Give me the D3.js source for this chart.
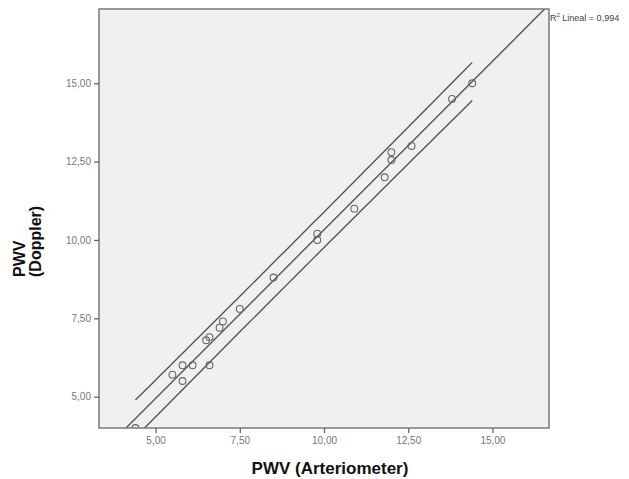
<!DOCTYPE html>
<html>
<head>
<meta charset="utf-8">
<script src="https://cdn.jsdelivr.net/npm/d3@7"></script>
<style>
  body { margin: 0; background: #fff; }
  svg { font-family: "Liberation Sans", Arial, sans-serif; }
</style>
</head>
<body>
<svg id="chart" width="629" height="479"></svg>
<script>
// PWV measured by arteriometer (x) vs doppler (y)
var pwvArteriometer = [4.4, 5.5, 5.8, 5.8, 6.1, 6.6, 6.5, 6.6, 6.9, 7.0, 7.5,
                       8.5, 9.8, 9.8, 10.9, 11.8, 12.0, 12.0, 12.6, 13.8, 14.4];
var pwvDoppler      = [4.0, 5.7, 6.0, 5.5, 6.0, 6.0, 6.8, 6.9, 7.2, 7.4, 7.8,
                       8.8, 10.2, 10.0, 11.0, 12.0, 12.8, 12.55, 13.0, 14.5, 15.0];
var xTicks = [5, 7.5, 10, 12.5, 15];
var yTicks = [5, 7.5, 10, 12.5, 15];
var xTitle = "PWV (Arteriometer)";
var yTitle = ["PWV", "(Doppler)"];
var r2Text = "Lineal = 0,994";

var points = pwvArteriometer.map(function(d, i) { return {x: d, y: pwvDoppler[i]}; });

var svg = d3.select("#chart");
var pLeft = 99, pRight = 549, pTop = 9, pBottom = 428;

var x = d3.scaleLinear().domain([3.32, 16.68]).range([pLeft, pRight]);
var y = d3.scaleLinear().domain([4.0, 17.37]).range([pBottom, pTop]);

var fmt = function(d) { return d3.format(".2f")(d).replace(".", ","); };

/* least squares fit + 95% individual prediction interval */
var n = points.length;
var mx = d3.mean(points, function(d) { return d.x; });
var my = d3.mean(points, function(d) { return d.y; });
var sxx = d3.sum(points, function(d) { return (d.x - mx) * (d.x - mx); });
var sxy = d3.sum(points, function(d) { return (d.x - mx) * (d.y - my); });
var slope = sxy / sxx;
var intercept = my - slope * mx;
var sse = d3.sum(points, function(d) { var e = d.y - (intercept + slope * d.x); return e * e; });
var s = Math.sqrt(sse / (n - 2));
var tCrit = 2.093;

function pred(v) { return intercept + slope * v; }
function half(v) { return tCrit * s * Math.sqrt(1 + 1 / n + (v - mx) * (v - mx) / sxx); }

svg.append("defs").append("clipPath").attr("id", "plotClip")
  .append("rect").attr("x", pLeft).attr("y", pTop)
  .attr("width", pRight - pLeft).attr("height", pBottom - pTop);

svg.append("rect")
  .attr("x", pLeft).attr("y", pTop)
  .attr("width", pRight - pLeft).attr("height", pBottom - pTop)
  .attr("fill", "#f0f0f0");

var plot = svg.append("g").attr("clip-path", "url(#plotClip)");

var line = d3.line()
  .x(function(d) { return x(d[0]); })
  .y(function(d) { return y(d[1]); });

// fit line over the whole x range
plot.append("path")
  .datum(x.domain().map(function(v) { return [v, pred(v)]; }))
  .attr("fill", "none").attr("stroke", "#555").attr("stroke-width", 1.4)
  .attr("d", line);

// prediction interval over the data range
var xr = d3.extent(pwvArteriometer);
var steps = d3.range(0, 41).map(function(i) { return xr[0] + (xr[1] - xr[0]) * i / 40; });
[1, -1].forEach(function(sign) {
  plot.append("path")
    .datum(steps.map(function(v) { return [v, pred(v) + sign * half(v)]; }))
    .attr("fill", "none").attr("stroke", "#555").attr("stroke-width", 1.4)
    .attr("d", line);
});

plot.selectAll("circle.pt")
  .data(points)
  .enter().append("circle")
  .attr("class", "pt")
  .attr("cx", function(d) { return x(d.x); })
  .attr("cy", function(d) { return y(d.y); })
  .attr("r", 3.4)
  .attr("fill", "none")
  .attr("stroke", "#666")
  .attr("stroke-width", 1.1);

svg.append("rect")
  .attr("x", pLeft).attr("y", pTop)
  .attr("width", pRight - pLeft).attr("height", pBottom - pTop)
  .attr("fill", "none").attr("stroke", "#7a7a7a").attr("stroke-width", 1.5);

/* axes */
var xAxis = svg.append("g")
  .attr("transform", "translate(0," + pBottom + ")")
  .call(d3.axisBottom(x).tickValues(xTicks).tickFormat(fmt).tickSize(5).tickPadding(4));
var yAxis = svg.append("g")
  .attr("transform", "translate(" + pLeft + ",0)")
  .call(d3.axisLeft(y).tickValues(yTicks).tickFormat(fmt).tickSize(5).tickPadding(3));

[xAxis, yAxis].forEach(function(g) {
  g.select(".domain").remove();
  g.selectAll(".tick line").attr("stroke", "#666").attr("stroke-width", 1.3);
  g.selectAll(".tick text").attr("fill", "#777").style("font-size", "10px")
    .style("font-family", "'Liberation Sans', Arial, sans-serif");
});

svg.append("text")
  .attr("x", 330).attr("y", 474)
  .attr("text-anchor", "middle")
  .style("font-size", "17px").style("font-weight", "bold")
  .attr("fill", "#111")
  .text(xTitle);

yTitle.forEach(function(t, i) {
  svg.append("text")
    .attr("transform", "translate(" + (25 + i * 16) + ",277) rotate(-90)")
    .attr("text-anchor", "start")
    .style("font-size", "16px").style("font-weight", "bold")
    .attr("fill", "#111")
    .text(t);
});

var r2 = svg.append("text")
  .attr("x", 550).attr("y", 21)
  .style("font-size", "9px")
  .attr("fill", "#444");
r2.append("tspan").text("R");
r2.append("tspan").attr("dy", -4).style("font-size", "6px").text("2");
r2.append("tspan").attr("dy", 4).text(" " + r2Text);
</script>
</body>
</html>
